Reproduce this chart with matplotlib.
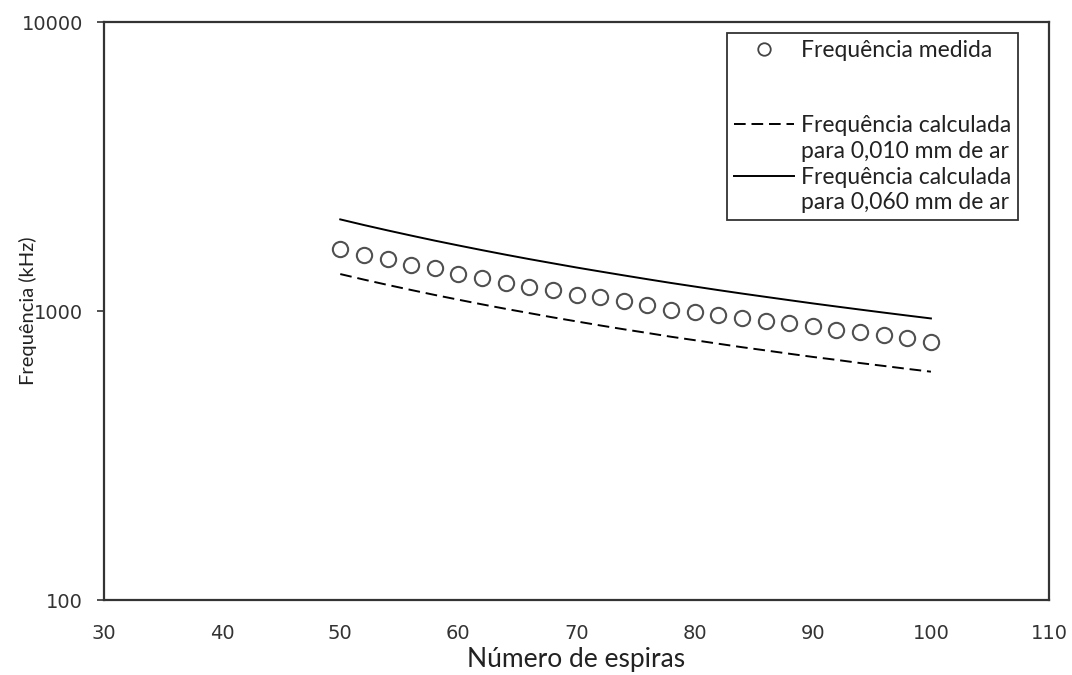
import matplotlib
matplotlib.use("Agg")
import matplotlib.pyplot as plt
from matplotlib.lines import Line2D

# número de espiras
espiras = [50, 52, 54, 56, 58, 60, 62, 64, 66, 68, 70, 72, 74,
           76, 78, 80, 82, 84, 86, 88, 90, 92, 94, 96, 98, 100]

# frequência medida (kHz)
f_medida = [1635, 1569, 1510, 1448, 1408, 1345, 1306, 1255, 1211, 1182, 1141, 1118, 1087,
            1049, 1012, 992, 969, 946, 923, 909, 891, 863, 846, 826, 810, 783]

# frequência calculada para 0,010 mm de ar (kHz)
f_calc_010 = [1343, 1285, 1232, 1183, 1137, 1095, 1055, 1018, 984, 951, 921, 892, 865,
              840, 815, 793, 771, 750, 731, 712, 694, 678, 661, 646, 631, 617]

# frequência calculada para 0,060 mm de ar (kHz)
f_calc_060 = [2076, 1985, 1902, 1825, 1753, 1687, 1625, 1567, 1513, 1463, 1415, 1371, 1329,
              1289, 1251, 1216, 1182, 1150, 1120, 1091, 1063, 1037, 1012, 988, 965, 943]

x_ticks = [30, 40, 50, 60, 70, 80, 90, 100, 110]
y_ticks = [100, 1000, 10000]

label_font = ["Lato", "DejaVu Sans"]

fig = plt.figure(figsize=(10.72, 6.75), dpi=100)
ax = fig.add_axes([0.097, 0.111, 0.8816, 0.8563])

ax.plot(espiras, f_calc_010, color="black", lw=1.4, ls=(0, (6, 3)))
ax.plot(espiras, f_calc_060, color="black", lw=1.4)
ax.plot(espiras, f_medida, ls="none", marker="o", ms=11, mfc="white",
        mec="#505050", mew=1.5)

ax.set_yscale("log")
ax.set_xlim(30, 110)
ax.set_ylim(100, 10000)
ax.set_xticks(x_ticks)
ax.set_xticklabels([str(v) for v in x_ticks])
ax.set_yticks(y_ticks)
ax.set_yticklabels([str(v) for v in y_ticks])
ax.minorticks_off()
ax.tick_params(axis="x", length=0, pad=17, labelsize=14, colors="#333333")
ax.tick_params(axis="y", length=5, width=1.2, pad=10, labelsize=14, colors="#333333")

for s in ax.spines.values():
    s.set_linewidth(1.6)
    s.set_color("#333333")

ax.set_xlabel("Número de espiras", fontsize=19, family=label_font, labelpad=3,
              color="#222222")
ax.set_ylabel("Frequência (kHz)", fontsize=14.5, family=label_font, color="#222222")
# o rótulo do eixo y fica sobreposto aos números, como no original
ax.yaxis.set_label_coords(-0.071, 0.5)

# legenda com linhas extras para os rótulos em duas linhas
blank = Line2D([], [], ls="none")
handles = [
    Line2D([], [], ls="none", marker="o", ms=9, mfc="white", mec="#444444", mew=1.3),
    blank,
    Line2D([], [], color="black", lw=1.4, ls=(0, (6, 3))),
    blank,
    Line2D([], [], color="black", lw=1.4),
    blank,
]
labels = ["Frequência medida", "\n", "Frequência calculada", "para 0,010 mm de ar",
          "Frequência calculada", "para 0,060 mm de ar"]
leg = ax.legend(handles, labels, loc="upper right", bbox_to_anchor=(0.967, 0.981),
                prop={"family": label_font, "size": 16.5}, frameon=True, fancybox=False,
                edgecolor="black", handlelength=2.6, handletextpad=0.3,
                labelspacing=0.2, borderpad=0.3, borderaxespad=0)
leg.get_frame().set_linewidth(1.3)
for t in leg.get_texts():
    t.set_color("#222222")

fig.savefig("out.png", dpi=100)
